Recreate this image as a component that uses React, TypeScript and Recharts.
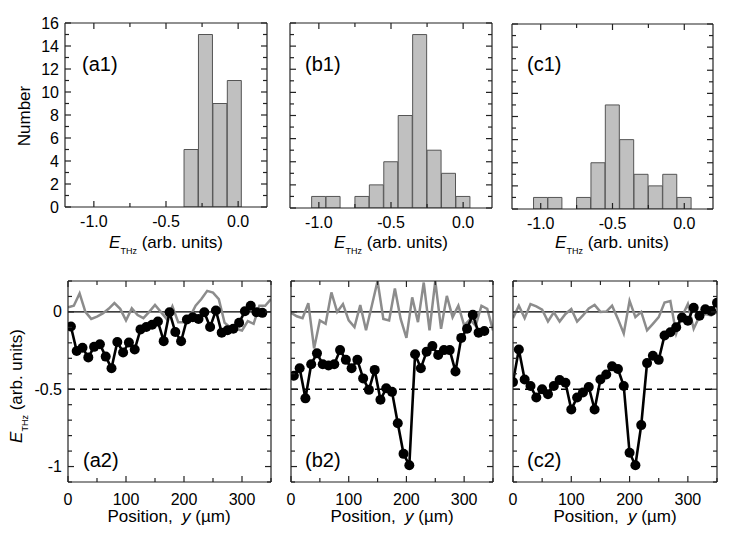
import { ComposedChart, Bar, Line, XAxis, YAxis, ReferenceLine } from "recharts";

const PAGE_W = 747;
const PAGE_H = 545;
const FONT = "'Liberation Sans', Arial, Helvetica, sans-serif";

// histograms of E_THz (bin centre, count)
const binsA1 = [-0.325, -0.225, -0.125, -0.025];
const countsA1 = [5, 15, 9, 11];
const binsBC = [-1.0, -0.9, -0.8, -0.7, -0.6, -0.5, -0.4, -0.3, -0.2, -0.1, 0.0];
const countsB1 = [1, 1, 0, 1, 2, 4, 8, 15, 5, 3, 1];
const countsC1 = [1, 1, 0, 1, 4, 9, 6, 3, 2, 3, 1];

// line scans: position (um) and E_THz
const posAB = [5, 15, 25, 35, 45, 55, 65, 75, 85, 95, 105, 115, 125, 135, 145, 155, 165,
  175, 185, 195, 205, 215, 225, 235, 245, 255, 265, 275, 285, 295, 305, 315, 325, 335];
const posFull = [0, 10, 20, 30, 40, 50, 60, 70, 80, 90, 100, 110, 120, 130, 140, 150, 160, 170,
  180, 190, 200, 210, 220, 230, 240, 250, 260, 270, 280, 290, 300, 310, 320, 330, 340, 350];

const fieldA2 = [-0.094, -0.253, -0.232, -0.294, -0.226, -0.209, -0.289, -0.364, -0.194, -0.262,
  -0.198, -0.243, -0.113, -0.098, -0.083, -0.062, -0.189, -0.002, -0.13, -0.19,
  -0.049, -0.034, -0.045, -0.002, -0.098, 0.009, -0.134, -0.119, -0.109, -0.07,
  0.004, 0.04, -0.002, -0.006];
const fieldB2 = [-0.413, -0.364, -0.559, -0.338, -0.268, -0.338, -0.347, -0.338, -0.247, -0.31,
  -0.364, -0.31, -0.43, -0.504, -0.375, -0.568, -0.494, -0.517, -0.72, -0.918,
  -0.992, -0.274, -0.364, -0.257, -0.221, -0.279, -0.247, -0.247, -0.385, -0.168,
  -0.109, -0.019, -0.134, -0.123];
const fieldC2 = [-0.454, -0.243, -0.437, -0.479, -0.553, -0.5, -0.532, -0.479, -0.441, -0.458,
  -0.631, -0.553, -0.521, -0.485, -0.631, -0.437, -0.405, -0.352, -0.369, -0.479,
  -0.911, -0.992, -0.732, -0.331, -0.283, -0.31, -0.152, -0.131, -0.099, -0.036,
  -0.057, 0.027, -0.025, 0.017, 0.006, 0.059];

// reference scans (grey)
const refA2 = [0.03, 0.04, 0.12, 0.0, -0.045, -0.03, -0.01, 0.02, 0.057, 0.02,
  -0.055, 0.023, -0.02, -0.04, 0.0, 0.045, 0.0, -0.045, 0.036, -0.066,
  -0.066, -0.034, 0.04, 0.083, 0.136, 0.125, 0.083, -0.07, -0.1, -0.11,
  -0.12, -0.06, -0.077, 0.04, 0.04, 0.083];
const refB2 = [-0.006, -0.028, -0.04, 0.057, -0.236, -0.055, -0.077, 0.126, 0.0, 0.051,
  -0.055, -0.098, 0.045, -0.119, 0.04, 0.2, -0.045, -0.055, 0.151, -0.045,
  -0.168, 0.094, -0.066, 0.19, -0.119, 0.2, -0.109, 0.104, -0.034, 0.04,
  -0.087, -0.05, -0.09, 0.04, 0.02, -0.12];
const refC2 = [-0.04, 0.04, -0.04, 0.051, 0.036, 0.015, -0.062, -0.002, -0.062, -0.013,
  0.019, -0.062, -0.023, 0.023, 0.045, 0.0, 0.002, 0.04, -0.045, -0.14,
  0.072, -0.034, 0.0, -0.119, -0.077, -0.034, 0.06, 0.07, -0.14, -0.03,
  0.051, -0.109, -0.028, -0.013, -0.023, 0.0];

// ticks
const histXTicks = [-1.0, -0.75, -0.5, -0.25, 0.0];
const histXLabels = [-1.0, -0.5, 0.0];
const histYTicks = [0, 1, 2, 3, 4, 5, 6, 7, 8, 9, 10, 11, 12, 13, 14, 15, 16];
const histYLabels = [0, 2, 4, 6, 8, 10, 12, 14, 16];
const posTicks = [0, 50, 100, 150, 200, 250, 300, 350];
const posLabels = [0, 100, 200, 300];
const fieldTicks = [-1.1, -1.0, -0.9, -0.8, -0.7, -0.6, -0.5, -0.4, -0.3, -0.2, -0.1, 0, 0.1, 0.2];
const fieldLabels = [0, -0.5, -1];

const zip = (xs: number[], ys: number[], key: string) => xs.map((x, i) => ({ x, [key]: ys[i] }));

type Side = "bottom" | "top" | "left" | "right";

function makeTick(side: Side, labels: number[], showText: boolean, fmt: (v: number) => string, gap: number) {
  return (props: any) => {
    const { x, y, payload } = props;
    const v = payload.value;
    const major = labels.includes(v);
    const len = major ? 6 : 4;
    let line;
    if (side === "bottom") line = <line x1={x} y1={y} x2={x} y2={y - len} />;
    else if (side === "top") line = <line x1={x} y1={y} x2={x} y2={y + len} />;
    else if (side === "left") line = <line x1={x} y1={y} x2={x + len} y2={y} />;
    else line = <line x1={x} y1={y} x2={x - len} y2={y} />;
    let text = null;
    if (showText && major) {
      if (side === "bottom")
        text = <text x={x} y={y + gap} textAnchor="middle" fontSize={16} fill="#000" stroke="none" fontFamily={FONT}>{fmt(v)}</text>;
      if (side === "left")
        text = <text x={x - gap} y={y + 5.5} textAnchor="end" fontSize={16} fill="#000" stroke="none" fontFamily={FONT}>{fmt(v)}</text>;
    }
    return (
      <g>
        <g stroke="#222" strokeWidth={1.2}>{line}</g>
        {text}
      </g>
    );
  };
}

const axisLine = { stroke: "#222", strokeWidth: 1.2 };

function axes(
  xDomain: [number, number], xTicks: number[], xLabels: number[], xFmt: (v: number) => string, xGap: number,
  yDomain: [number, number], yTicks: number[], yLabels: number[], showY: boolean
) {
  const common = { tickLine: false, tickSize: 0, tickMargin: 0, interval: 0 as const, axisLine, allowDataOverflow: true };
  return [
    <XAxis key="b" xAxisId="b" type="number" dataKey="x" orientation="bottom" height={1} domain={xDomain} ticks={xTicks}
      tick={makeTick("bottom", xLabels, true, xFmt, xGap)} {...common} />,
    <XAxis key="t" xAxisId="t" type="number" dataKey="x" orientation="top" height={1} domain={xDomain} ticks={xTicks}
      tick={makeTick("top", xLabels, false, xFmt, 0)} {...common} />,
    <YAxis key="l" yAxisId="l" type="number" orientation="left" width={1} domain={yDomain} ticks={yTicks}
      tick={makeTick("left", yLabels, showY, (v) => String(v), 6)} {...common} />,
    <YAxis key="r" yAxisId="r" type="number" orientation="right" width={1} domain={yDomain} ticks={yTicks}
      tick={makeTick("right", yLabels, false, (v) => String(v), 0)} {...common} />,
  ];
}

// each axis takes 1px, so the margin stops 1px short of the plot edge
const margins = (l: number, t: number, r: number, b: number) => ({
  left: l - 1, top: t - 1, right: PAGE_W - r - 1, bottom: PAGE_H - b - 1,
});

const layer: React.CSSProperties = { position: "absolute", left: 0, top: 0, width: PAGE_W, height: PAGE_H };

function HistPanel({ bins, counts, box, showY }: { bins: number[]; counts: number[]; box: number[]; showY: boolean }) {
  const data = zip(bins, counts, "n");
  return (
    <div style={layer}>
      <ComposedChart width={PAGE_W} height={PAGE_H} data={data} margin={margins(box[0], box[1], box[2], box[3])}
        barCategoryGap={0} barGap={0}>
        {axes([-1.2, 0.2], histXTicks, histXLabels, (v) => v.toFixed(1), 20, [0, 16], histYTicks, histYLabels, showY)}
        <Bar xAxisId="b" yAxisId="l" dataKey="n" fill="#c0c0c0" stroke="#555" strokeWidth={1} isAnimationActive={false} />
      </ComposedChart>
    </div>
  );
}

function ScanPanel({ pos, field, refVals, box, showY }: { pos: number[]; field: number[]; refVals: number[]; box: number[]; showY: boolean }) {
  const main = zip(pos, field, "v");
  const ref = zip(posFull, refVals, "v");
  return (
    <div style={layer}>
      <ComposedChart width={PAGE_W} height={PAGE_H} margin={margins(box[0], box[1], box[2], box[3])}>
        {axes([0, 350], posTicks, posLabels, (v) => String(v), 23, [-1.1, 0.2], fieldTicks, fieldLabels, showY)}
        <ReferenceLine xAxisId="b" yAxisId="l" y={0} stroke="#000" strokeWidth={1.2} />
        <ReferenceLine xAxisId="b" yAxisId="l" y={-0.5} stroke="#000" strokeWidth={1.5} strokeDasharray="7 5" />
        <Line xAxisId="b" yAxisId="l" data={ref} dataKey="v" type="linear" stroke="#8c8c8c" strokeWidth={2.5}
          dot={false} isAnimationActive={false} />
        <Line xAxisId="b" yAxisId="l" data={main} dataKey="v" type="linear" stroke="#000" strokeWidth={2.6}
          dot={{ r: 5, fill: "#000", stroke: "#000", strokeWidth: 0 }} isAnimationActive={false} />
      </ComposedChart>
    </div>
  );
}

function EThz({ x, y, rotate }: { x: number; y: number; rotate?: boolean }) {
  return (
    <text x={x} y={y} textAnchor="middle" fontSize={17} transform={rotate ? `rotate(-90 ${x} ${y})` : undefined}>
      <tspan fontStyle="italic">E</tspan>
      <tspan fontSize={9} dy={6}>THz</tspan>
      <tspan dy={-6}>{"\u00a0(arb. units)"}</tspan>
    </text>
  );
}

function PosTitle({ x, y }: { x: number; y: number }) {
  return (
    <text x={x} y={y} textAnchor="middle" fontSize={17}>
      <tspan>{"Position,\u00a0\u00a0"}</tspan>
      <tspan fontStyle="italic">y</tspan>
      <tspan>{"\u00a0(\u00b5m)"}</tspan>
    </text>
  );
}

const panelLabels = [
  { t: "(a1)", x: 82, y: 71 },
  { t: "(b1)", x: 305, y: 71 },
  { t: "(c1)", x: 527, y: 71 },
  { t: "(a2)", x: 83, y: 467 },
  { t: "(b2)", x: 305, y: 467 },
  { t: "(c2)", x: 527, y: 467 },
];

export default function App() {
  return (
    <div style={{ ...layer, background: "#fff", fontFamily: FONT }}>
      <HistPanel bins={binsA1} counts={countsA1} box={[65, 23, 267, 207]} showY />
      <HistPanel bins={binsBC} counts={countsB1} box={[290, 23, 492, 208]} showY={false} />
      <HistPanel bins={binsBC} counts={countsC1} box={[512, 24, 713, 209]} showY={false} />
      <ScanPanel pos={posAB} field={fieldA2} refVals={refA2} box={[68, 281, 271, 482]} showY />
      <ScanPanel pos={posAB} field={fieldB2} refVals={refB2} box={[291, 281, 493, 482]} showY={false} />
      <ScanPanel pos={posFull} field={fieldC2} refVals={refC2} box={[513, 281, 717, 482]} showY={false} />
      <svg width={PAGE_W} height={PAGE_H} style={{ ...layer, pointerEvents: "none" }} fontFamily={FONT} fill="#000">
        <text x={30} y={116} textAnchor="middle" fontSize={17} transform="rotate(-90 30 116)">Number</text>
        <EThz x={166} y={248} />
        <EThz x={391} y={248} />
        <EThz x={612} y={248} />
        <EThz x={21.5} y={386} rotate />
        <PosTitle x={169} y={522} />
        <PosTitle x={392} y={522} />
        <PosTitle x={615} y={522} />
        {panelLabels.map((p) => (
          <text key={p.t} x={p.x} y={p.y} fontSize={20}>{p.t}</text>
        ))}
      </svg>
    </div>
  );
}
